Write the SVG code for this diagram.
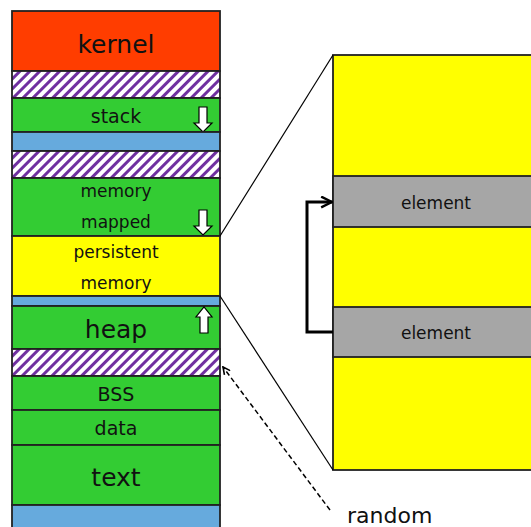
<svg xmlns="http://www.w3.org/2000/svg" width="531" height="527" viewBox="0 0 531 527">
<defs>
<pattern id="hatch" width="7" height="7" patternUnits="userSpaceOnUse" patternTransform="rotate(45)">
<rect width="7" height="7" fill="#ffffff"/>
<rect width="3" height="7" fill="#7030a0"/>
</pattern>
<marker id="open" viewBox="0 0 12 12" refX="11" refY="6" markerWidth="13" markerHeight="13" markerUnits="userSpaceOnUse" orient="auto">
<path d="M1,1 L11,6 L1,11" fill="none" stroke="#000" stroke-width="2.2"/>
</marker>
<marker id="open2" viewBox="0 0 10 10" refX="9" refY="5" markerWidth="9" markerHeight="9" markerUnits="userSpaceOnUse" orient="auto">
<path d="M1,1 L9,5 L1,9" fill="none" stroke="#000" stroke-width="1.8"/>
</marker>
</defs>
<style>
.seg{stroke:#222;stroke-width:1.8}
.red{fill:#ff3d00}
.grn{fill:#33cc33}
.blu{fill:#66aadd}
.yel{fill:#ffff00}
.gry{fill:#a6a6a6}
.hat{fill:url(#hatch)}
.t{font-family:"DejaVu Sans",Verdana,sans-serif;fill:#111;text-anchor:middle}
.ba{fill:#fff;stroke:#000;stroke-width:1.2}
.ln{fill:none;stroke:#000;stroke-width:1.2}
</style>
<rect x="0" y="0" width="531" height="527" fill="#fff"/>
<g id="memory-layout">
<g id="kernel"><rect class="seg red" x="12" y="11" width="208" height="60"/><text class="t" x="116" y="53" font-size="25">kernel</text></g>
<g id="gap1"><rect class="seg hat" x="12" y="71" width="208" height="27"/></g>
<g id="stack"><rect class="seg grn" x="12" y="98" width="208" height="34"/><text class="t" x="116" y="123" font-size="19">stack</text>
<path class="ba" d="M199,107 H207 V123 H212 L203,132 L194,123 H199 Z"/></g>
<g id="free1"><rect class="seg blu" x="12" y="132" width="208" height="19"/></g>
<g id="gap2"><rect class="seg hat" x="12" y="151" width="208" height="27"/></g>
<g id="mapped"><rect class="seg grn" x="12" y="178" width="208" height="58"/><text class="t" x="116" y="197" font-size="17">memory</text><text class="t" x="116" y="228" font-size="17">mapped</text>
<path class="ba" d="M199,210 H207 V226 H212 L203,235 L194,226 H199 Z"/></g>
<g id="persistent"><rect class="seg yel" x="12" y="236" width="208" height="60"/><text class="t" x="116" y="258" font-size="17">persistent</text><text class="t" x="116" y="289" font-size="17">memory</text></g>
<g id="free2"><rect class="seg blu" x="12" y="296" width="208" height="10"/></g>
<g id="heap"><rect class="seg grn" x="12" y="306" width="208" height="43"/><text class="t" x="116" y="338" font-size="25">heap</text>
<path class="ba" d="M200,333 H208 V317 H212 L204,307 L196,317 H200 Z"/></g>
<g id="gap3"><rect class="seg hat" x="12" y="349" width="208" height="27"/></g>
<g id="bss"><rect class="seg grn" x="12" y="376" width="208" height="34"/><text class="t" x="116" y="401" font-size="19">BSS</text></g>
<g id="data"><rect class="seg grn" x="12" y="410" width="208" height="35"/><text class="t" x="116" y="435" font-size="19">data</text></g>
<g id="text"><rect class="seg grn" x="12" y="445" width="208" height="60"/><text class="t" x="116" y="486" font-size="25">text</text></g>
<g id="free3"><rect class="seg blu" x="12" y="505" width="208" height="30"/></g>
</g>
<g id="zoom-box">
<rect class="seg yel" x="333" y="55" width="210" height="415"/>
<g id="element1"><rect class="seg gry" x="333" y="176" width="210" height="51"/><text class="t" x="436" y="209" font-size="17">element</text></g>
<g id="element2"><rect class="seg gry" x="333" y="307" width="210" height="50"/><text class="t" x="436" y="339" font-size="17">element</text></g>
</g>
<g id="connectors">
<line class="ln" x1="220" y1="236" x2="333" y2="55"/>
<line class="ln" x1="220" y1="296" x2="333" y2="470"/>
<path d="M333,332 H307 V202 H332" fill="none" stroke="#000" stroke-width="3" marker-end="url(#open)"/>
<line x1="330" y1="510" x2="223" y2="367" stroke="#000" stroke-width="1.5" stroke-dasharray="5,3" marker-end="url(#open2)"/>
</g>
<text x="347" y="523" font-family="DejaVu Sans,Verdana,sans-serif" font-size="22" fill="#111">random</text>
</svg>
